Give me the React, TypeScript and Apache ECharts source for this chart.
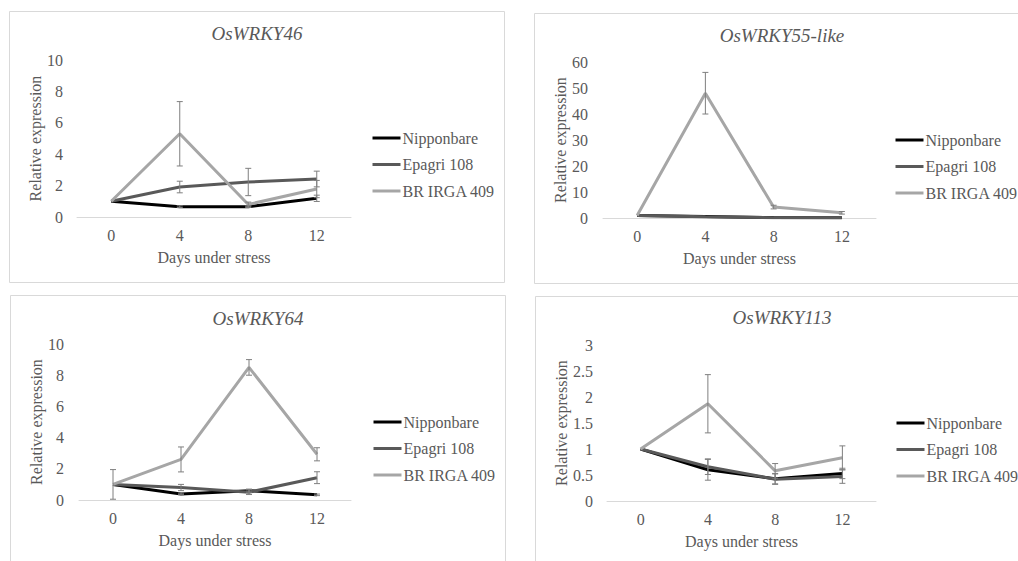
import React, { useEffect, useRef } from "react";
import * as echarts from "echarts";

const days = ["0", "4", "8", "12"];
const cultivars = ["Nipponbare", "Epagri 108", "BR IRGA 409"];
const titles = ["OsWRKY46", "OsWRKY55-like", "OsWRKY64", "OsWRKY113"];

// OsWRKY46
const w46Nip = [1, 0.66, 0.66, 1.19];
const w46NipErr = [0, 0.05, 0.05, 0.2];
const w46Epa = [1, 1.91, 2.23, 2.42];
const w46EpaErr = [0, 0.37, 0.87, 0.5];
const w46Brg = [1, 5.3, 0.8, 1.78];
const w46BrgErr = [0, 2.05, 0.15, 0.55];

// OsWRKY55-like
const w55Nip = [1, 0.6, 0.15, 0.1];
const w55NipErr = [0, 0, 0, 0];
const w55Epa = [1, 0.5, 0.1, 0.05];
const w55EpaErr = [0, 0, 0, 0];
const w55Brg = [1, 48, 4.2, 2];
const w55BrgErr = [0, 8, 0.7, 0.5];

// OsWRKY64
const w64Nip = [1, 0.39, 0.6, 0.33];
const w64NipErr = [0, 0.05, 0.1, 0.05];
const w64Epa = [1, 0.8, 0.5, 1.43];
const w64EpaErr = [0, 0.2, 0.15, 0.38];
const w64Brg = [1, 2.6, 8.5, 2.93];
const w64BrgErr = [0.95, 0.8, 0.5, 0.42];

// OsWRKY113
const w113Nip = [1, 0.6, 0.43, 0.53];
const w113NipErr = [0, 0.2, 0.1, 0.1];
const w113Epa = [1, 0.66, 0.42, 0.47];
const w113EpaErr = [0, 0.15, 0.1, 0.13];
const w113Brg = [1, 1.87, 0.58, 0.83];
const w113BrgErr = [0, 0.56, 0.14, 0.23];

const yMax = [10, 60, 10, 3];
const yInterval = [2, 10, 2, 0.5];

const TEXT = "#595959";
const FONT = "'Liberation Serif', 'Times New Roman', 'DejaVu Serif', serif";
const lineColors = ["#000000", "#595959", "#A6A6A6"];

const panelValues = [
  [w46Nip, w46Epa, w46Brg],
  [w55Nip, w55Epa, w55Brg],
  [w64Nip, w64Epa, w64Brg],
  [w113Nip, w113Epa, w113Brg],
];
const panelErrors = [
  [w46NipErr, w46EpaErr, w46BrgErr],
  [w55NipErr, w55EpaErr, w55BrgErr],
  [w64NipErr, w64EpaErr, w64BrgErr],
  [w113NipErr, w113EpaErr, w113BrgErr],
];

// layout (pixels)
const grids = [
  { left: 77, top: 60, width: 274, height: 157 },
  { left: 603, top: 62, width: 273, height: 156 },
  { left: 79, top: 344, width: 272, height: 156 },
  { left: 607, top: 345, width: 269, height: 156 },
];
const titlePos = [
  { x: 257, y: 24 },
  { x: 782, y: 26 },
  { x: 258, y: 309 },
  { x: 782, y: 308 },
];
const legendPos = [
  { x: 371, y: 130 },
  { x: 894, y: 132 },
  { x: 372, y: 414 },
  { x: 895, y: 415 },
];
const yNameGap = [32, 33, 34, 37];
const yLabelMargin = [14, 15, 15, 14];
const borders = [
  { x: 9.5, y: 11.5, w: 495, h: 271 },
  { x: 534.5, y: 13.5, w: 495, h: 270 },
  { x: 10.5, y: 295.5, w: 495, h: 300 },
  { x: 535.5, y: 296.5, w: 500, h: 300 },
];

function errorRender(params: any, api: any) {
  const idx = api.value(0);
  const lo = api.coord([idx, api.value(1)]);
  const hi = api.coord([idx, api.value(2)]);
  if (Math.abs(hi[1] - lo[1]) < 0.5) return null;
  const w = 3;
  const style = { stroke: "#7F7F7F", lineWidth: 1 };
  return {
    type: "group",
    children: [
      { type: "line", shape: { x1: hi[0], y1: hi[1], x2: lo[0], y2: lo[1] }, style },
      { type: "line", shape: { x1: hi[0] - w, y1: hi[1], x2: hi[0] + w, y2: hi[1] }, style },
      { type: "line", shape: { x1: lo[0] - w, y1: lo[1], x2: lo[0] + w, y2: lo[1] }, style },
    ],
  };
}

export default function App() {
  const ref = useRef<HTMLDivElement>(null);
  useEffect(() => {
    if (!ref.current) return;
    const chart = echarts.init(ref.current, null, { renderer: "svg" });
    const series: any[] = [];
    panelValues.forEach((vals, p) => {
      const order = [1, 0, 2];
      order.forEach((s) => {
        series.push({
          type: "line",
          name: cultivars[s],
          xAxisIndex: p,
          yAxisIndex: p,
          data: vals[s],
          symbol: "none",
          lineStyle: { color: lineColors[s], width: 3 },
          itemStyle: { color: lineColors[s] },
          z: 2 + s,
        });
      });
      [0, 1, 2].forEach((s) => {
        const errData = vals[s].map((v, i) => [i, v - panelErrors[p][s][i], v + panelErrors[p][s][i]]);
        series.push({
          type: "custom",
          xAxisIndex: p,
          yAxisIndex: p,
          renderItem: errorRender,
          data: errData,
          encode: { x: 0, y: [1, 2] },
          z: 6,
          silent: true,
        });
      });
    });

    chart.setOption({
      animation: false,
      backgroundColor: "#ffffff",
      textStyle: { fontFamily: FONT, color: TEXT },
      title: titles.map((t, p) => ({
        text: t,
        left: titlePos[p].x,
        top: titlePos[p].y,
        padding: 0,
        textAlign: "center",
        textStyle: { fontFamily: FONT, fontStyle: "italic", fontWeight: "normal", fontSize: 19, color: TEXT },
      })),
      legend: legendPos.map((lp) => ({
        data: cultivars,
        orient: "vertical",
        left: lp.x,
        top: lp.y,
        padding: 0,
        itemWidth: 28,
        itemHeight: 14,
        itemGap: 10.5,
        selectedMode: false,
        itemStyle: { opacity: 0 },
        lineStyle: { width: 3 },
        textStyle: { fontFamily: FONT, fontSize: 16, color: TEXT, padding: [0, 0, 0, -3] },
      })),
      grid: grids.map((g) => ({ ...g, containLabel: false })),
      xAxis: grids.map((_, p) => ({
        type: "category",
        gridIndex: p,
        data: days,
        boundaryGap: true,
        name: "Days under stress",
        nameLocation: "middle",
        nameGap: 32,
        nameTextStyle: { fontFamily: FONT, fontSize: 16, color: TEXT },
        axisLine: { lineStyle: { color: "#D9D9D9", width: 1 } },
        axisTick: { show: false },
        axisLabel: { fontFamily: FONT, fontSize: 16, color: TEXT, margin: 10 },
        splitLine: { show: false },
      })),
      yAxis: grids.map((_, p) => ({
        type: "value",
        gridIndex: p,
        min: 0,
        max: yMax[p],
        interval: yInterval[p],
        name: "Relative expression",
        nameLocation: "middle",
        nameGap: yNameGap[p],
        nameTextStyle: { fontFamily: FONT, fontSize: 16, color: TEXT },
        axisLine: { show: false },
        axisTick: { show: false },
        axisLabel: { fontFamily: FONT, fontSize: 16, color: TEXT, margin: yLabelMargin[p] },
        splitLine: { show: false },
      })),
      graphic: borders.map((b) => ({
        type: "rect",
        shape: { x: b.x, y: b.y, width: b.w, height: b.h },
        style: { fill: "none", stroke: "#D9D9D9", lineWidth: 1 },
        silent: true,
        z: -1,
      })),
      series,
    });
    return () => chart.dispose();
  }, []);
  return (
    <div
      ref={ref}
      style={{ position: "fixed", left: 0, top: 0, width: 1018, height: 561, background: "#fff" }}
    />
  );
}
